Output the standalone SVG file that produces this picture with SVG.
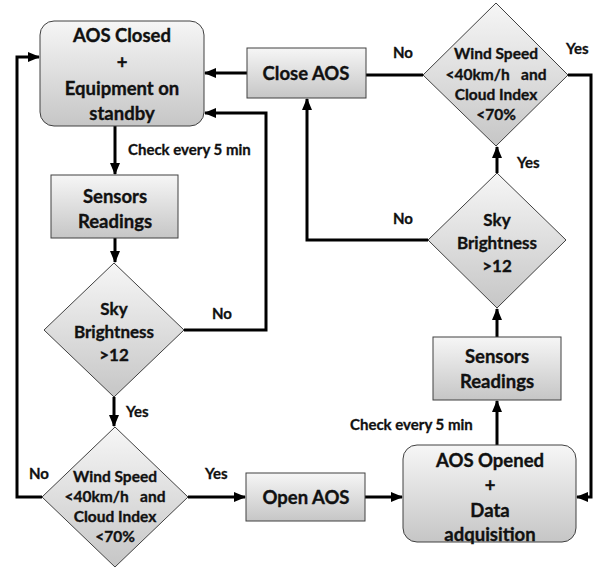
<svg xmlns="http://www.w3.org/2000/svg" width="594" height="569" viewBox="0 0 594 569">
<style>
.shape{fill:url(#g);stroke:#404040;stroke-width:1}
.t{font-family:Lato,"Liberation Sans",sans-serif;font-weight:bold;fill:#111;stroke:#111;stroke-width:0.35;text-anchor:middle}
.big{font-size:18.5px}
.mid{font-size:17px}
.sm{font-size:15.5px}
.lbl{font-family:Lato,"Liberation Sans",sans-serif;font-weight:bold;font-size:15px;fill:#111;stroke:#111;stroke-width:0.3}
.c{fill:none;stroke:#000;stroke-width:3}
.a{marker-end:url(#ah)}
</style>
<defs>
<linearGradient id="g" x1="0" y1="0" x2="0" y2="1">
<stop offset="0" stop-color="#f6f6f6"/>
<stop offset="1" stop-color="#c6c6c6"/>
</linearGradient>
<marker id="ah" markerUnits="userSpaceOnUse" markerWidth="12" markerHeight="10" refX="11" refY="5" orient="auto">
<path d="M0,0 L12,5 L0,10 Z" fill="#000"/>
</marker>
</defs>
<g id="connectors">
<path class="c a" d="M115,126 V174"/>
<path class="c a" d="M115,238 V262"/>
<path class="c a" d="M184,330 H266 V113 H205"/>
<path class="c a" d="M114,397 V426"/>
<path class="c a" d="M42,497 H17 V57 H39"/>
<path class="c a" d="M188,497 H245"/>
<path class="c a" d="M365,497 H402"/>
<path class="c a" d="M497,445 V401"/>
<path class="c a" d="M497,337 V309"/>
<path class="c a" d="M497,173 V147"/>
<path class="c a" d="M428,240 H307 V99"/>
<path class="c" d="M423,75 H366"/>
<path class="c a" d="M568,75 H591 V497 H577"/>
<path class="c a" d="M247,73 H205"/>
<text class="lbl" x="128" y="155">Check every 5 min</text>
<text class="lbl" x="212" y="319">No</text>
<text class="lbl" x="126" y="417">Yes</text>
<text class="lbl" x="29" y="479">No</text>
<text class="lbl" x="205" y="479">Yes</text>
<text class="lbl" x="350" y="430">Check every 5 min</text>
<text class="lbl" x="393" y="58">No</text>
<text class="lbl" x="566" y="54">Yes</text>
<text class="lbl" x="517" y="168">Yes</text>
<text class="lbl" x="393" y="224">No</text>
</g>
<g id="aos-closed">
<rect class="shape" x="40" y="21" width="164" height="105" rx="14"/>
<text class="t big"><tspan x="122" y="42">AOS Closed</tspan><tspan x="122" y="69">+</tspan><tspan x="122" y="95">Equipment on</tspan><tspan x="122" y="120">standby</tspan></text>
</g>
<g id="close-aos">
<rect class="shape" x="247" y="48" width="119" height="50"/>
<text class="t big" x="306" y="80">Close AOS</text>
</g>
<g id="sensors-left">
<rect class="shape" x="51" y="175" width="127" height="63"/>
<text class="t big"><tspan x="115" y="203">Sensors</tspan><tspan x="115" y="228">Readings</tspan></text>
</g>
<g id="sky-left">
<polygon class="shape" points="114,263 184,330 114,397 44,330"/>
<text class="t mid"><tspan x="114" y="315">Sky</tspan><tspan x="114" y="338">Brightness</tspan><tspan x="114" y="361">&gt;12</tspan></text>
</g>
<g id="wind-left">
<polygon class="shape" points="115,427 188,497 115,567 42,497"/>
<text class="t sm" xml:space="preserve"><tspan x="115" y="482">Wind Speed</tspan><tspan x="115" y="502">&lt;40km/h   and</tspan><tspan x="115" y="522">Cloud Index</tspan><tspan x="115" y="542">&lt;70%</tspan></text>
</g>
<g id="open-aos">
<rect class="shape" x="246" y="473" width="119" height="48"/>
<text class="t big" x="306" y="504">Open AOS</text>
</g>
<g id="aos-opened">
<rect class="shape" x="403" y="445" width="173" height="97" rx="14"/>
<text class="t big"><tspan x="490" y="467">AOS Opened</tspan><tspan x="490" y="492">+</tspan><tspan x="490" y="517">Data</tspan><tspan x="490" y="541">adquisition</tspan></text>
</g>
<g id="sensors-right">
<rect class="shape" x="433" y="337" width="128" height="63"/>
<text class="t big"><tspan x="497" y="363">Sensors</tspan><tspan x="497" y="388">Readings</tspan></text>
</g>
<g id="sky-right">
<polygon class="shape" points="497,173 566,240 497,308 428,240"/>
<text class="t mid"><tspan x="497" y="226">Sky</tspan><tspan x="497" y="249">Brightness</tspan><tspan x="497" y="272">&gt;12</tspan></text>
</g>
<g id="wind-right">
<polygon class="shape" points="496,3 568,75 496,146 423,75"/>
<text class="t sm" xml:space="preserve"><tspan x="496" y="59">Wind Speed</tspan><tspan x="496" y="80">&lt;40km/h   and</tspan><tspan x="496" y="100">Cloud Index</tspan><tspan x="496" y="120">&lt;70%</tspan></text>
</g>
</svg>
